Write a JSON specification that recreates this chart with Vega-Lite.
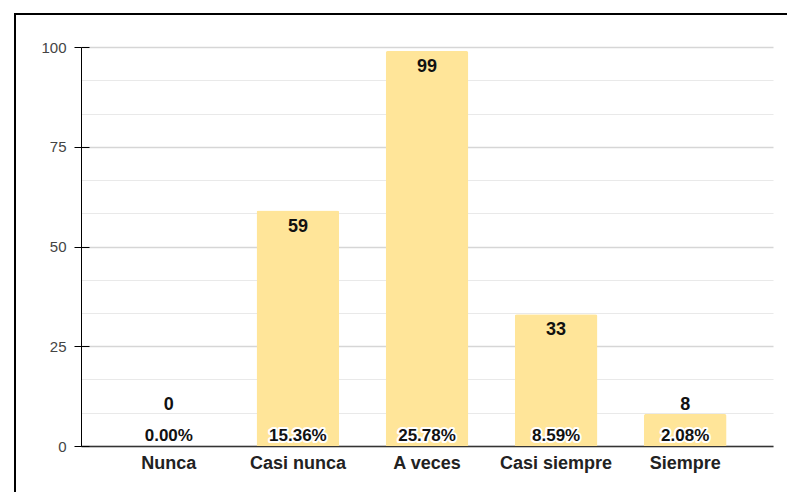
{
  "$schema": "https://vega.github.io/schema/vega-lite/v6.json",
  "width": 773,
  "height": 479,
  "autosize": {"type": "none"},
  "padding": {"left": 15, "top": 14, "right": 0, "bottom": 0},
  "config": {
    "view": {"stroke": "#000000", "strokeWidth": 2},
    "font": "Liberation Sans"
  },
  "data": {
    "values": [
      {"cat": "Nunca", "count": 0, "pct": "0.00%"},
      {"cat": "Casi nunca", "count": 59, "pct": "15.36%"},
      {"cat": "A veces", "count": 99, "pct": "25.78%"},
      {"cat": "Casi siempre", "count": 33, "pct": "8.59%"},
      {"cat": "Siempre", "count": 8, "pct": "2.08%"}
    ]
  },
  "resolve": {"axis": {"y": "independent"}},
  "encoding": {
    "x": {
      "field": "cat",
      "type": "nominal",
      "sort": null,
      "scale": {"range": [66, 758], "paddingInner": 0.36, "paddingOuter": 0.36},
      "axis": {
        "title": null,
        "offset": -47,
        "labelAngle": 0,
        "labelFontSize": 18,
        "labelFontWeight": "bold",
        "labelColor": "#222222",
        "labelPadding": 8,
        "ticks": false,
        "tickSize": 0,
        "domainColor": "#333333",
        "domainWidth": 1.5,
        "grid": false
      }
    }
  },
  "layer": [
    {
      "mark": {"type": "bar", "color": "#FFE599", "cornerRadiusTopLeft": 2, "cornerRadiusTopRight": 2},
      "encoding": {
        "y": {
          "field": "count",
          "type": "quantitative",
          "scale": {"domain": [0, 100], "range": [432, 33], "nice": false},
          "axis": {
            "title": null,
            "offset": -66,
            "values": [0, 8.3333, 16.6667, 25, 33.3333, 41.6667, 50, 58.3333, 66.6667, 75, 83.3333, 91.6667, 100],
            "labelExpr": "datum.value % 25 === 0 ? datum.label : ''",
            "tickSize": 7,
            "tickColor": "#000000",
            "tickOpacity": {"condition": {"test": "datum.value % 25 === 0", "value": 1}, "value": 0},
            "gridColor": {"condition": {"test": "datum.value % 25 === 0", "value": "#d6d6d6"}, "value": "#e9e9e9"},
            "gridWidth": {"condition": {"test": "datum.value % 25 === 0", "value": 1.5}, "value": 1},
            "domainColor": "#000000",
            "labelColor": "#444444",
            "labelFontSize": 15,
            "labelPadding": 8
          }
        }
      }
    },
    {
      "transform": [{"filter": "datum.count >= 20"}],
      "mark": {"type": "text", "fontWeight": "bold", "fontSize": 18, "dy": 16, "baseline": "middle", "color": "#111111"},
      "encoding": {
        "y": {"field": "count", "type": "quantitative", "axis": null},
        "text": {"field": "count", "type": "quantitative"}
      }
    },
    {
      "transform": [{"filter": "datum.count < 20"}],
      "mark": {"type": "text", "fontWeight": "bold", "fontSize": 18, "baseline": "middle", "color": "#111111"},
      "encoding": {"y": {"datum": 10.4, "axis": null}, "text": {"field": "count", "type": "quantitative"}}
    },
    {
      "mark": {"type": "text", "fontWeight": "bold", "fontSize": 17, "baseline": "middle", "dy": -10, "stroke": "#ffffff", "strokeWidth": 4, "strokeJoin": "round", "color": "#ffffff"},
      "encoding": {"y": {"datum": 0, "axis": null}, "text": {"field": "pct"}}
    },
    {
      "mark": {"type": "text", "fontWeight": "bold", "fontSize": 17, "baseline": "middle", "dy": -10, "color": "#111111"},
      "encoding": {
        "y": {
          "datum": 0,
          "axis": {
            "orient": "left",
            "offset": -66,
            "values": [0, 25, 50, 75, 100],
            "tickSize": -8,
            "tickColor": "#000000",
            "labels": false,
            "domain": false,
            "grid": false,
            "title": null
          }
        },
        "text": {"field": "pct"}
      }
    }
  ]
}
